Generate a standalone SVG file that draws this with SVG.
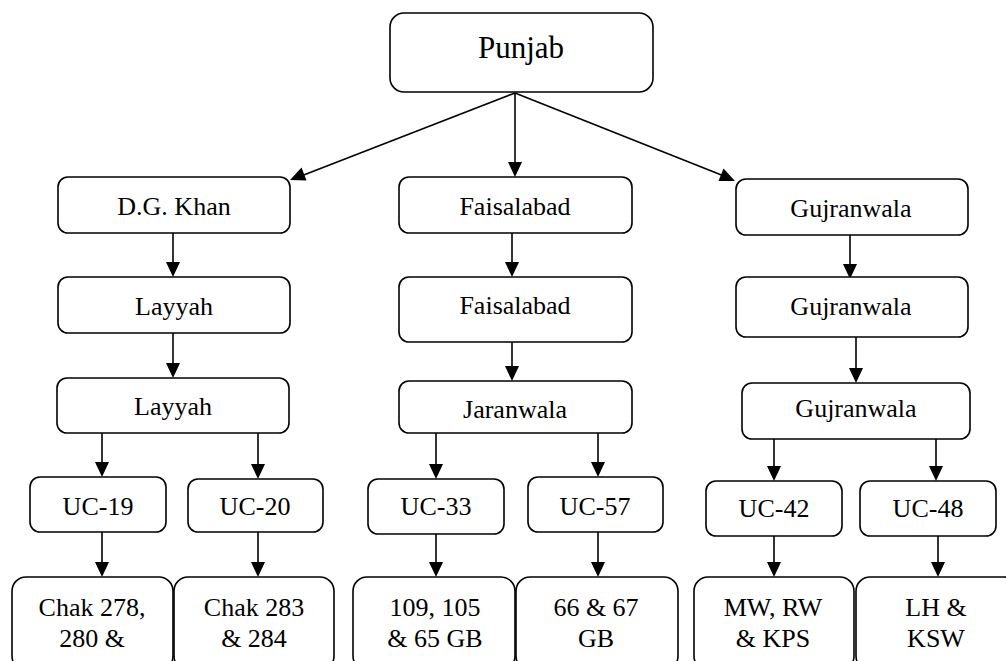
<svg xmlns="http://www.w3.org/2000/svg" width="1006" height="661" viewBox="0 0 1006 661">
<defs>
<style>
.b{fill:#fff;stroke:#000;stroke-width:1.6}
.t{font-family:'Liberation Serif','Times New Roman',serif;font-size:26px;fill:#000;text-anchor:middle}
.c{stroke:#000;stroke-width:1.6;fill:none}
.h{fill:#000}
</style>
</defs>
<rect width="1006" height="661" fill="#fff"/>
<g id="connectors">
<path class="c" d="M515,93 L296,178"/>
<path class="c" d="M515,93 L515,163"/>
<path class="c" d="M515,93 L729,178"/>
<polygon class="h" points="290,180 301.5,167.5 306.5,180.5"/>
<polygon class="h" points="515,177 508,162 522,162"/>
<polygon class="h" points="735,181 718.5,181 723.5,168.5"/>
<line class="c" x1="173" y1="233" x2="173" y2="263"/>
<polygon class="h" points="173,277 166,262 180,262"/>
<line class="c" x1="173" y1="333" x2="173" y2="364"/>
<polygon class="h" points="173,378 166,363 180,363"/>
<line class="c" x1="102" y1="433" x2="102" y2="463"/>
<polygon class="h" points="102,477 95,462 109,462"/>
<line class="c" x1="258" y1="433" x2="258" y2="465"/>
<polygon class="h" points="258,479 251,464 265,464"/>
<line class="c" x1="102" y1="532" x2="102" y2="563"/>
<polygon class="h" points="102,577 95,562 109,562"/>
<line class="c" x1="258" y1="532" x2="258" y2="563"/>
<polygon class="h" points="258,577 251,562 265,562"/>
<line class="c" x1="512" y1="233" x2="512" y2="263"/>
<polygon class="h" points="512,277 505,262 519,262"/>
<line class="c" x1="512" y1="342" x2="512" y2="367"/>
<polygon class="h" points="512,381 505,366 519,366"/>
<line class="c" x1="436" y1="433" x2="436" y2="465"/>
<polygon class="h" points="436,479 429,464 443,464"/>
<line class="c" x1="598" y1="433" x2="598" y2="463"/>
<polygon class="h" points="598,477 591,462 605,462"/>
<line class="c" x1="436" y1="534" x2="436" y2="563"/>
<polygon class="h" points="436,577 429,562 443,562"/>
<line class="c" x1="598" y1="532" x2="598" y2="563"/>
<polygon class="h" points="598,577 591,562 605,562"/>
<line class="c" x1="850" y1="235" x2="850" y2="265"/>
<polygon class="h" points="850,279 843,264 857,264"/>
<line class="c" x1="856" y1="337" x2="856" y2="369"/>
<polygon class="h" points="856,383 849,368 863,368"/>
<line class="c" x1="774" y1="439" x2="774" y2="467"/>
<polygon class="h" points="774,481 767,466 781,466"/>
<line class="c" x1="936" y1="439" x2="936" y2="467"/>
<polygon class="h" points="936,481 929,466 943,466"/>
<line class="c" x1="774" y1="536" x2="774" y2="563"/>
<polygon class="h" points="774,577 767,562 781,562"/>
<line class="c" x1="938" y1="536" x2="938" y2="563"/>
<polygon class="h" points="938,577 931,562 945,562"/>
</g>
<g id="punjab"><rect class="b" x="390" y="13" width="263" height="79" rx="14"/><text class="t" x="521" y="58" style="font-size:31px">Punjab</text></g>
<g id="dgkhan"><rect class="b" x="58" y="177" width="232" height="56" rx="10"/><text class="t" x="174" y="215">D.G. Khan</text></g>
<g id="layyah1"><rect class="b" x="58" y="277" width="232" height="56" rx="10"/><text class="t" x="174" y="315">Layyah</text></g>
<g id="layyah2"><rect class="b" x="57" y="378" width="232" height="55" rx="10"/><text class="t" x="173" y="415">Layyah</text></g>
<g id="uc19"><rect class="b" x="30" y="477" width="136" height="55" rx="10"/><text class="t" x="98" y="515">UC-19</text></g>
<g id="uc20"><rect class="b" x="188" y="479" width="135" height="53" rx="10"/><text class="t" x="255" y="515">UC-20</text></g>
<g id="faisalabad1"><rect class="b" x="399" y="177" width="233" height="56" rx="10"/><text class="t" x="515" y="215">Faisalabad</text></g>
<g id="faisalabad2"><rect class="b" x="399" y="277" width="233" height="65" rx="10"/><text class="t" x="515" y="314">Faisalabad</text></g>
<g id="jaranwala"><rect class="b" x="399" y="381" width="233" height="52" rx="10"/><text class="t" x="515" y="418">Jaranwala</text></g>
<g id="uc33"><rect class="b" x="368" y="479" width="136" height="55" rx="10"/><text class="t" x="436" y="515">UC-33</text></g>
<g id="uc57"><rect class="b" x="528" y="477" width="135" height="55" rx="10"/><text class="t" x="595" y="515">UC-57</text></g>
<g id="gujranwala1"><rect class="b" x="736" y="179" width="232" height="56" rx="10"/><text class="t" x="851" y="217">Gujranwala</text></g>
<g id="gujranwala2"><rect class="b" x="736" y="277" width="232" height="60" rx="10"/><text class="t" x="851" y="315">Gujranwala</text></g>
<g id="gujranwala3"><rect class="b" x="742" y="383" width="228" height="56" rx="10"/><text class="t" x="856" y="417">Gujranwala</text></g>
<g id="uc42"><rect class="b" x="706" y="481" width="136" height="55" rx="10"/><text class="t" x="774" y="517">UC-42</text></g>
<g id="uc48"><rect class="b" x="860" y="481" width="136" height="55" rx="10"/><text class="t" x="928" y="517">UC-48</text></g>
<g id="chak278"><rect class="b" x="12" y="577" width="161" height="93" rx="14"/><text class="t" x="92" y="616">Chak 278,</text><text class="t" x="92" y="647">280 &amp;</text></g>
<g id="chak283"><rect class="b" x="174" y="577" width="160" height="93" rx="14"/><text class="t" x="254" y="616">Chak 283</text><text class="t" x="254" y="647">&amp; 284</text></g>
<g id="gb109"><rect class="b" x="353" y="577" width="162" height="93" rx="14"/><text class="t" x="435" y="616">109, 105</text><text class="t" x="435" y="647">&amp; 65 GB</text></g>
<g id="gb66"><rect class="b" x="516" y="577" width="162" height="93" rx="14"/><text class="t" x="596" y="616">66 &amp; 67</text><text class="t" x="596" y="647">GB</text></g>
<g id="mw"><rect class="b" x="694" y="577" width="160" height="93" rx="14"/><text class="t" x="773" y="616">MW, RW</text><text class="t" x="773" y="647">&amp; KPS</text></g>
<g id="lh"><rect class="b" x="856" y="577" width="162" height="93" rx="14"/><text class="t" x="936" y="616">LH &amp;</text><text class="t" x="936" y="647">KSW</text></g>
</svg>
